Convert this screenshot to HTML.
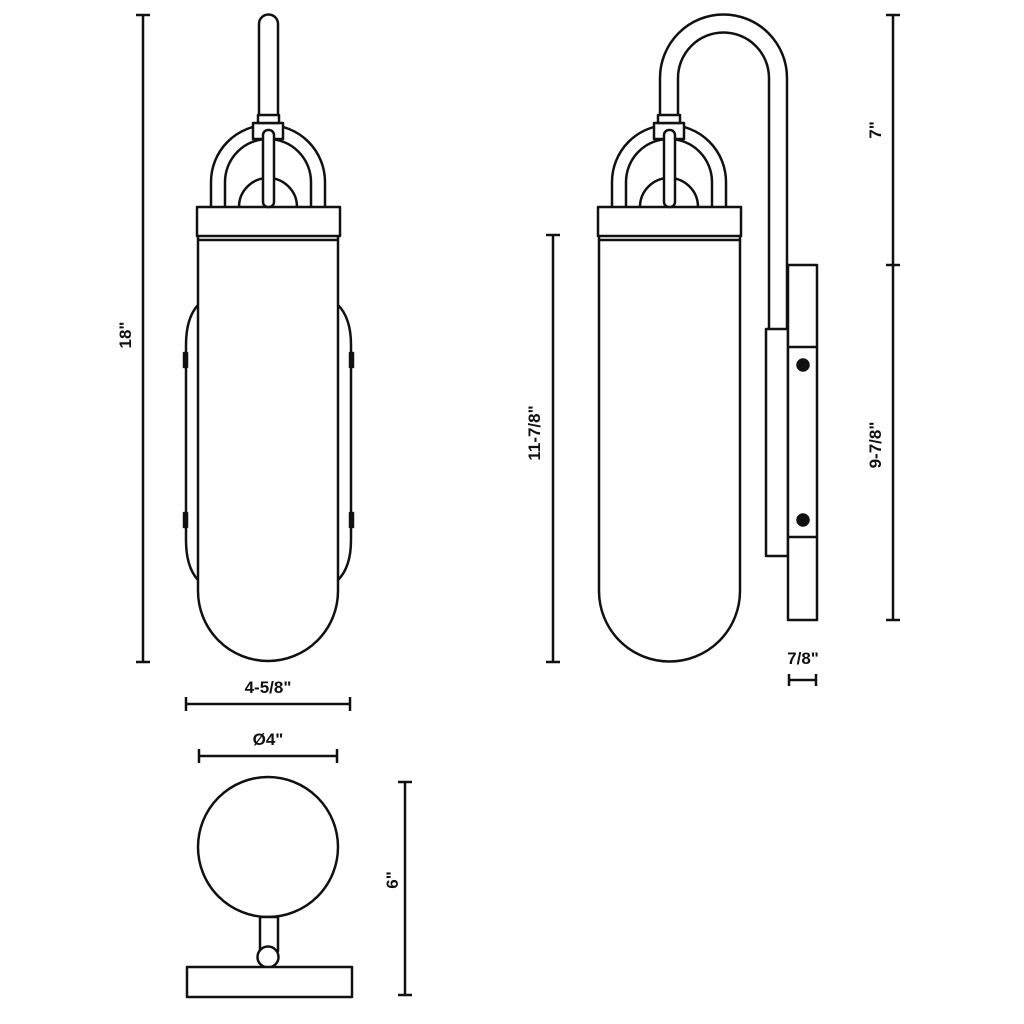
<!DOCTYPE html>
<html><head><meta charset="utf-8"><style>
html,body{margin:0;padding:0;background:#fff;}
svg{display:block;}
text{font-family:"Liberation Sans",Arial,sans-serif;font-weight:bold;font-size:17px;fill:#111;}
</style></head><body>
<svg width="1024" height="1024" viewBox="0 0 1024 1024" xmlns="http://www.w3.org/2000/svg">
<g fill="none" stroke="#111" stroke-width="2.5" stroke-linejoin="round">
<!-- FRONT VIEW -->
<!-- side plates -->
<path d="M198,305 Q186,318 186,345 L186,540 Q186,567 198,580"/>
<path d="M338,305 Q351,318 351,345 L351,540 Q351,567 338,580"/>
<rect x="184" y="353" width="3" height="14" fill="#111"/>
<rect x="184" y="513" width="3" height="14" fill="#111"/>
<rect x="350" y="353" width="3" height="14" fill="#111"/>
<rect x="350" y="513" width="3" height="14" fill="#111"/>
<!-- body -->
<path d="M198,237 L198,591 A70,70 0 0 0 338,591 L338,237"/>
<line x1="198" y1="240" x2="338" y2="240"/>
<rect x="197" y="207" width="143" height="29" fill="#fff"/>
<!-- dome -->
<path d="M239,207 A29,29 0 0 1 297,207"/>
<!-- arch -->
<path d="M211,207 L211,182 A57,57 0 0 1 325,182 L325,207"/>
<path d="M225,207 L225,182 A43,43 0 0 1 311,182 L311,207"/>
<!-- hub and rod -->
<rect x="253" y="123" width="30" height="16" fill="#fff"/>
<rect x="263" y="130" width="11" height="77" fill="#fff" rx="5"/>
<rect x="258" y="115" width="21" height="8" fill="#fff"/>
<path d="M259,115 L259,24 A9.5,9.5 0 0 1 278,24 L278,115"/>

<!-- SIDE VIEW -->
<!-- hook -->
<path d="M660,115 L660,78 A63.5,63.5 0 0 1 787,78 L787,330"/>
<path d="M678,115 L678,78 A45.5,45.5 0 0 1 769,78 L769,330"/>
<!-- bracket -->
<rect x="766" y="329" width="22" height="227" fill="#fff"/>
<rect x="788" y="265" width="29" height="355" fill="#fff"/>
<line x1="788" y1="347" x2="817" y2="347"/>
<line x1="788" y1="537" x2="817" y2="537"/>
<circle cx="803" cy="365" r="5.5" fill="#111"/>
<circle cx="803" cy="520" r="5.5" fill="#111"/>
<!-- body -->
<path d="M599,237 L599,591 A70.5,70.5 0 0 0 740,591 L740,237"/>
<line x1="599" y1="240" x2="740" y2="240"/>
<rect x="598" y="207" width="143" height="29" fill="#fff"/>
<path d="M640,207 A29,29 0 0 1 698,207"/>
<path d="M612,207 L612,182 A57,57 0 0 1 726,182 L726,207"/>
<path d="M626,207 L626,182 A43,43 0 0 1 712,182 L712,207"/>
<rect x="654" y="123" width="30" height="16" fill="#fff"/>
<rect x="664" y="130" width="11" height="77" fill="#fff" rx="5"/>
<rect x="658" y="115" width="22" height="8" fill="#fff"/>

<!-- TOP VIEW -->
<circle cx="268" cy="847" r="70"/>
<rect x="260" y="917" width="18" height="34" fill="#fff"/>
<circle cx="268" cy="957" r="10.5" fill="#fff"/>
<rect x="187" y="967" width="165" height="30" fill="#fff"/>

<!-- DIMENSIONS -->
<line x1="143" y1="15" x2="143" y2="662"/>
<line x1="136" y1="15" x2="150" y2="15"/><line x1="136" y1="662" x2="150" y2="662"/>
<line x1="186" y1="704" x2="350" y2="704"/>
<line x1="186" y1="697" x2="186" y2="711"/><line x1="350" y1="697" x2="350" y2="711"/>
<line x1="199" y1="756" x2="337" y2="756"/>
<line x1="199" y1="749" x2="199" y2="763"/><line x1="337" y1="749" x2="337" y2="763"/>
<line x1="405" y1="782" x2="405" y2="995"/>
<line x1="398" y1="782" x2="412" y2="782"/><line x1="398" y1="995" x2="412" y2="995"/>
<line x1="553" y1="235" x2="553" y2="662"/>
<line x1="546" y1="235" x2="560" y2="235"/><line x1="546" y1="662" x2="560" y2="662"/>
<line x1="893" y1="15" x2="893" y2="620"/>
<line x1="886" y1="15" x2="900" y2="15"/><line x1="886" y1="265" x2="900" y2="265"/><line x1="886" y1="620" x2="900" y2="620"/>
<line x1="789" y1="680" x2="816" y2="680"/>
<line x1="789" y1="674" x2="789" y2="686"/><line x1="816" y1="674" x2="816" y2="686"/>
</g>
<text x="268" y="693" text-anchor="middle">4-5/8"</text>
<text x="268" y="745" text-anchor="middle">Ø4"</text>
<text x="803" y="664" text-anchor="middle">7/8"</text>
<text transform="translate(131,335) rotate(-90)" text-anchor="middle">18"</text>
<text transform="translate(398,880) rotate(-90)" text-anchor="middle">6"</text>
<text transform="translate(540,433) rotate(-90)" text-anchor="middle">11-7/8"</text>
<text transform="translate(881,130) rotate(-90)" text-anchor="middle">7"</text>
<text transform="translate(881,445) rotate(-90)" text-anchor="middle">9-7/8"</text>
</svg>
</body></html>
